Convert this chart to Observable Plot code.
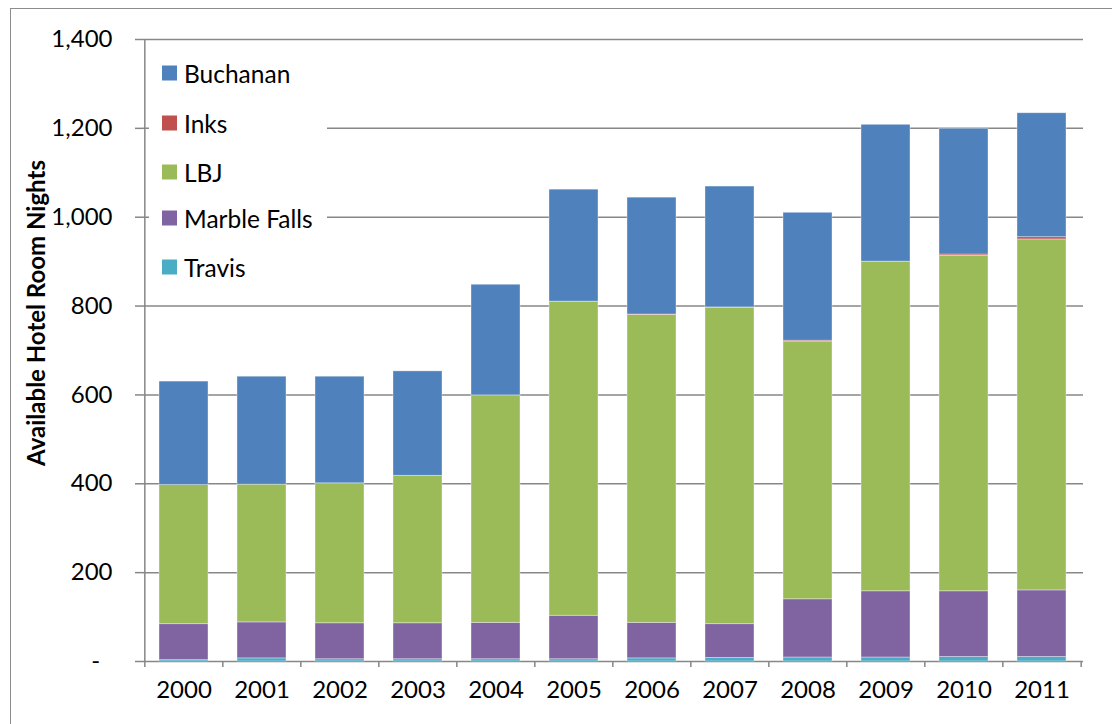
<!DOCTYPE html>
<html><head><meta charset="utf-8">
<script src="https://cdn.jsdelivr.net/npm/d3@7"></script>
<script src="https://cdn.jsdelivr.net/npm/@observablehq/plot@0.6"></script>
<style>
body{margin:0;background:#fff;font-family:Lato,"Noto Sans",sans-serif;}
#wrap{position:relative;width:1112px;height:724px;overflow:hidden;background:#fff;}
#frame{position:absolute;left:10px;top:8px;width:1200px;height:800px;border-left:1.5px solid #8c8c8c;border-top:1.5px solid #8c8c8c;box-sizing:border-box;}
#chart{position:absolute;left:0;top:0;}
#ylabel{position:absolute;left:35px;top:313px;transform:translate(-50%,-50%) rotate(-90deg);white-space:nowrap;font-weight:bold;font-size:24px;color:#000;}
#legend{position:absolute;left:149px;top:41px;width:178px;height:262px;background:#fff;}
.li{position:absolute;left:13px;white-space:nowrap;font-size:24.5px;color:#000;display:flex;align-items:center;transform:translateY(-50%);}
.sw{width:15px;height:15px;margin-right:7px;display:inline-block;}
</style>
</head><body>
<div id="wrap"><div id="frame"></div><div id="chart"></div><div id="ylabel">Available Hotel Room Nights</div><div id="legend"></div></div>
<script>
const years = ["2000","2001","2002","2003","2004","2005","2006","2007","2008","2009","2010","2011"];
const travis      = [3, 7, 5, 5, 5, 5, 7, 8, 9, 9, 10, 10];
const marbleFalls = [81, 81, 81, 81, 82, 98, 80, 76, 131, 149, 148, 150];
const lbj         = [313, 310, 315, 332, 512, 706, 693, 712, 579, 741, 755, 790];
const inks        = [0, 0, 0, 0, 0, 1, 1, 1, 3, 1, 3, 5];
const buchanan    = [233, 243, 240, 235, 249, 252, 263, 272, 288, 308, 283, 279];
const legendOrder = ["Buchanan","Inks","LBJ","Marble Falls","Travis"];
const stackOrder  = ["Travis","Marble Falls","LBJ","Inks","Buchanan"];
const colors      = ["#4F81BD","#C0504D","#9BBB59","#8064A2","#4BACC6"];
const yTicks      = [0,200,400,600,800,1000,1200,1400];

const seriesValues = {"Travis":travis,"Marble Falls":marbleFalls,"LBJ":lbj,"Inks":inks,"Buchanan":buchanan};
const data = [];
for (const s of stackOrder) years.forEach((y,i)=>data.push({year:y, series:s, value:seriesValues[s][i]}));

const W=1112,H=724,ML=143,MR=29,MT=39,MB=63;
const half = (W-ML-MR)/years.length/2;
const grey = "#878787";

const chart = Plot.plot({
  width:W, height:H, marginLeft:ML, marginRight:MR, marginTop:MT, marginBottom:MB,
  style:{fontFamily:"Lato, 'Noto Sans', sans-serif", fontSize:"24px", color:"#000", background:"transparent", overflow:"visible"},
  x:{domain:years, paddingInner:0.37, paddingOuter:0.185, label:null},
  y:{domain:[0,1400], label:null},
  color:{domain:legendOrder, range:colors},
  marks:[
    Plot.ruleY(yTicks,{stroke:grey, strokeWidth:1.5}),
    Plot.barY(data,{x:"year", y:"value", fill:"series", order:stackOrder, stroke:"#ffffff", strokeOpacity:0.45, strokeWidth:0.8}),
    Plot.ruleX([years[0]],{dx:-half, stroke:grey, strokeWidth:1.5}),
    Plot.ruleX(years,{y1:0, y2:0, dx:-half, insetBottom:-6, stroke:grey, strokeWidth:1.5}),
    Plot.ruleX([years[years.length-1]],{y1:0, y2:0, dx:half, insetBottom:-6, stroke:grey, strokeWidth:1.5}),
    Plot.axisY(yTicks,{tickSize:8, tickPadding:23, stroke:grey, strokeWidth:1.5, fontSize:24,
      tickFormat:d=> d===0 ? "-\u00a0\u00a0" : d3.format(",")(d)}),
    Plot.axisX({tickSize:0, tickPadding:19, fontSize:24})
  ]
});
document.getElementById("chart").appendChild(chart);

const leg = document.getElementById("legend");
const rowY = [73,123,172,218,267];
legendOrder.forEach((s,i)=>{
  const d=document.createElement("div"); d.className="li"; d.style.top=(rowY[i]-41)+"px";
  d.innerHTML=`<span class="sw" style="background:${colors[i]}"></span>${s}`;
  leg.appendChild(d);
});
</script>
</body></html>
